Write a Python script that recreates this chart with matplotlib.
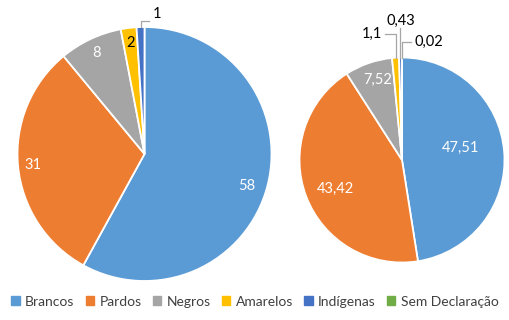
import matplotlib.pyplot as plt
import numpy as np

plt.rcParams['font.family'] = ['Lato', 'DejaVu Sans']

categorias = ["Brancos", "Pardos", "Negros", "Amarelos", "Indígenas", "Sem Declaração"]
cores = ["#5B9BD5", "#ED7D31", "#A5A5A5", "#FFC000", "#4472C4", "#70AD47"]

esq_valores = [58, 31, 8, 2, 1]
esq_rotulos = ["58", "31", "8", "2", "1"]

dir_valores = [47.51, 43.42, 7.52, 1.1, 0.43, 0.02]
dir_rotulos = ["47,51", "43,42", "7,52", "1,1", "0,43", "0,02"]

fig = plt.figure(figsize=(5.1, 3.2), dpi=100)

# eixos posicionados em pixels: centro e raio de cada pizza
def eixo(cx, cy, r):
    ax = fig.add_axes([(cx - r) / 510, (320 - cy - r) / 320, 2 * r / 510, 2 * r / 320])
    return ax

ax1 = eixo(144.5, 154, 127)
ax2 = eixo(402, 160, 102.5)

def pizza(ax, valores, cores_):
    w, _ = ax.pie(valores, colors=cores_, startangle=90, counterclock=False,
                  wedgeprops=dict(edgecolor="white", linewidth=1.3))
    ax.set_xlim(-1, 1)
    ax.set_ylim(-1, 1)
    ax.axis("off")
    return w

def meio(wedge):
    return np.deg2rad((wedge.theta1 + wedge.theta2) / 2)

def interno(ax, wedge, txt, dist, desloc=0, cor="white"):
    a = meio(wedge) + np.deg2rad(desloc)
    ax.text(dist * np.cos(a), dist * np.sin(a), txt, ha="center", va="center",
            color=cor, fontsize=10.5)

def externo(ax, wedge, txt, sobe, lado, ha, va="center", dy=0.0):
    a = meio(wedge)
    x0, y0 = np.cos(a), np.sin(a)
    xs = [x0, x0, x0 + lado]
    ys = [y0, y0 + sobe, y0 + sobe]
    ax.plot(xs, ys, color="#A6A6A6", lw=0.9, clip_on=False)
    gap = 0.03 if lado > 0 else (-0.03 if lado < 0 else 0)
    ax.text(x0 + lado + gap, y0 + sobe + dy, txt, ha=ha, va=va, fontsize=10.5,
            color="black", clip_on=False)

w1 = pizza(ax1, esq_valores, cores[:5])
interno(ax1, w1[0], esq_rotulos[0], 0.84, -3)
interno(ax1, w1[1], esq_rotulos[1], 0.88)
interno(ax1, w1[2], esq_rotulos[2], 0.88)
interno(ax1, w1[3], esq_rotulos[3], 0.88, cor="black")
externo(ax1, w1[4], esq_rotulos[4], 0.05, 0.07, "left", dy=0.05)

w2 = pizza(ax2, dir_valores, cores)
interno(ax2, w2[0], dir_rotulos[0], 0.58, 7)
interno(ax2, w2[1], dir_rotulos[1], 0.71, 3)
interno(ax2, w2[2], dir_rotulos[2], 0.82, -2)
externo(ax2, w2[3], dir_rotulos[3], 0.23, -0.1, "right")
externo(ax2, w2[4], dir_rotulos[4], 0.29, 0.0, "center", va="bottom")
externo(ax2, w2[5], dir_rotulos[5], 0.15, 0.09, "left")

handles = [plt.Rectangle((0, 0), 1, 1, color=c) for c in cores]
fig.legend(handles, categorias, loc="center", bbox_to_anchor=(0.5, 0.057), ncol=6,
           frameon=False, fontsize=10, handlelength=0.6, handleheight=0.6,
           handletextpad=0.4, columnspacing=0.8, labelcolor="#404040")

fig.savefig("out.png", dpi=100)
